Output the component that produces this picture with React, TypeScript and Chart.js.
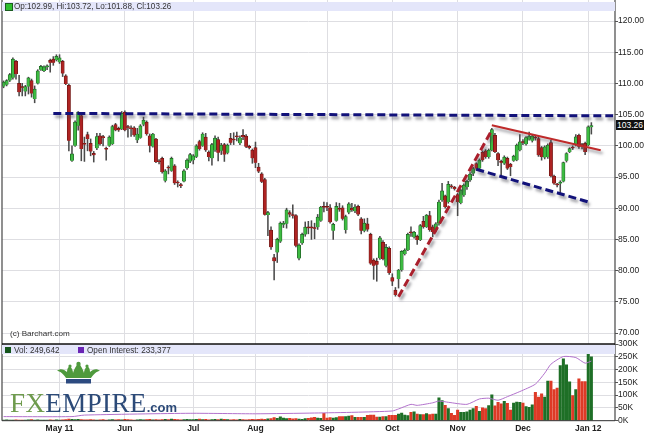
import React, { useEffect, useRef } from "react";
import { Chart, registerables } from "chart.js";

Chart.register(...registerables);

const opens = [
  109.5,109.8,110.45,110.9,113.55,110,109.5,108.7,109.5,110.45,
  107.5,110,112.2,112,112.6,113.7,113.9,113.75,113.4,113.55,
  111.2,109.7,97.6,100,103.2,104.85,100.4,101.8,100.4,98.8,
  99.6,101.6,101.5,99.6,100,100.3,103.4,102.8,102.7,105.4,
  103.1,102.9,102.9,100.9,101.3,103.4,103.8,101.6,99.9,101.1,
  97.6,98,94.4,96.6,96,96.8,94.2,93.8,94.3,96.4,
  97.5,97.7,98.25,100.7,100,101.4,99,98,99.3,101,
  99.2,100.2,98.9,101.2,101.1,101.6,100.4,101.7,101.56,99.9,
  99.3,99.7,96.6,95.5,94.6,88.9,86.5,82.1,82.9,84.65,
  87.4,87.5,89.3,89,88.84,81.96,84.38,85.8,87,87,
  86.9,86.96,88,90.3,90.3,90.07,86.4,88,90,90.07,
  86.5,89.3,90,89.5,90.3,88.3,86.4,87.5,85.8,81.7,
  81.5,82,84.54,80.8,83.57,78.9,76.87,78.64,80.1,82.66,
  83.3,86.2,85.35,85.5,84.9,87.9,87,88.84,87,86.45,
  87.5,91.27,91.97,91,93.6,93.4,92.2,90.84,92.07,93.4,
  94.5,95.55,97.16,96.36,99,99.2,98.2,99.3,101.7,98.77,
  97.5,97.16,98,97.05,97.6,97.7,99.3,100.7,100.27,101,
  100.8,101.4,101.18,99.73,98.13,98.2,100.5,95.13,93.9,93.95,
  94.3,97.6,99,99.8,100.1,101.7,100.2,100.4,100.1,102.99,
];
const closes = [
  110.2,110.45,111.4,113.9,111.5,108.6,109.3,109.5,110.9,108.4,
  109.1,112,112.75,112.65,112.8,113.3,113.3,114.35,114.1,111.6,
  109.9,100.8,98.7,103.8,105.4,99.5,100.2,101.1,99.1,98.5,
  101.5,100.3,101.3,99.4,101.4,103.1,102.5,102.5,105.2,102.5,
  102.9,102.7,101.7,101.9,103.2,104.1,101.9,100,101.9,97.4,
  97.4,95.8,96,96.4,98,94,94,93.6,96,97.7,
  98.6,98.4,100,99.5,101.9,99.3,98.2,100.2,101.25,98.9,
  100.1,98.6,100.1,100.5,100.9,101.4,101.3,101.4,99.84,99.7,
  98,97.3,95.9,94.26,89,89.3,83.74,81.5,85,87.6,
  87.6,89.75,89,88.8,84,84.1,85.8,86.96,86.8,86.8,
  86.7,88.57,90.2,90.1,90.1,87.76,87.4,90.3,89.8,88.3,
  88.67,90.7,89.7,90.2,89,86.4,87.6,86.6,81.16,80.8,
  80.95,85.24,81.86,83.74,79.6,78.26,76.1,80.1,83.1,83.3,
  85.8,86,86.15,84.9,87.2,87,88.9,86.5,86.2,87.5,
  91,92.77,90.2,93.84,93.4,93.1,91,92.9,93.7,94.3,
  95.45,96.36,96.36,97.7,97.7,98.2,99.3,102.6,99,97.7,
  97.3,98.2,96.36,96.6,98.34,100.1,100.64,100.5,101.34,101.55,
  101.55,101.2,98.5,98.2,99.84,100.1,95.13,93.95,93.7,94.2,
  97.3,98.77,99.57,99.6,101.45,99.84,100,99,103.05,103.26,
];
const highs = [
  110.4,110.6,111.6,114.1,113.7,111.3,110,109.7,111,110.7,
  109.6,112.2,112.9,112.8,113,113.9,114.3,114.6,114.6,113.7,
  111.4,109.9,100,104,105.5,105,101.4,102.2,101.1,99.1,
  102,102,101.7,99.8,101.6,103.3,103.6,103,105.5,105.6,
  103.3,103.2,103.1,102.8,103.4,104.6,104,101.9,102,101.2,
  97.8,98.2,96.2,96.8,98.2,97,94.4,94,96.2,97.9,
  98.8,98.6,100.2,100.9,102.1,102,99.2,100.4,101.6,101.4,
  100.4,100.4,100.3,102,102.1,102.2,101.6,102.6,101.8,100.1,
  99.5,100.6,97.2,95.7,94.8,89.5,87,82.6,85.2,87.8,
  87.9,90,89.6,90.55,89,84.3,86,87.8,87.9,88,
  87.6,89,90.3,91,90.9,90.6,87.6,90.9,90.8,90.4,
  88.9,90.9,90.8,90.6,90.5,88.5,88.3,88.4,86,81.9,
  82,85.5,84.8,84.2,83.8,79.5,77.3,80.2,83.2,83.5,
  86,87,86.3,85.7,87.4,88.7,89,89.5,87.3,87.7,
  91.3,94,92.1,94.3,93.8,93.5,92.4,93,93.9,94.5,
  95.7,96.6,97.3,97.9,99.2,99.4,99.5,102.8,102,98.9,
  97.7,98.4,98.2,97.2,98.5,100.3,101.8,101,101.5,102.2,
  101.8,101.7,101.5,99.9,100,100.3,100.9,95.3,94,94.4,
  97.4,98.9,99.7,100,101.8,101.9,100.4,100.6,103.2,103.72,
];
const lows = [
  109.3,109.6,110.3,110.7,110.7,108,108,108,108.3,107.8,
  106.9,109.9,112.1,111.9,112.2,111.8,112.9,113.6,113.2,111.1,
  109.8,99.2,97.5,99.9,102.5,97.6,97.5,99.2,98.4,97.4,
  99.4,100.1,100,97.7,99.9,100.2,102.4,102.3,102.6,102.4,
  101.4,101.5,101.5,100.5,101.2,103.2,101.7,99,99.8,97.3,
  97.1,95.6,94.2,95.5,95.9,93.8,93.4,93.3,94.2,96.2,
  97.3,97.1,98.1,99.3,99.9,99.1,97.6,96.9,99.1,97.6,
  98.6,97.5,98.7,100.2,100.2,100.8,100.2,101,99.7,99.5,
  97.2,96.5,95.7,94.1,88.9,85.6,83.4,78.5,81.3,84.5,
  86.9,86.8,88.6,88.4,83.8,81.7,84.2,85.5,85.9,85,
  85.1,86.6,87.9,89.4,89.6,87.6,85,87.9,89.5,88.1,
  86,89.1,89.5,89.3,88.8,85.9,86.2,86.3,81,78.6,
  78.3,81.8,81.7,80.6,79.4,77.6,75.9,77.2,79.9,82.5,
  83.2,85.5,85.2,84.2,84.8,86.8,86.9,86.3,85.4,86.2,
  87.3,91.1,90,90.8,93.2,92.9,88.8,90.7,91.9,93,
  94.3,95.2,96.1,96.2,97.5,98,98,99.2,98.9,96.8,
  95,97,96.2,95.2,97.5,97.6,99.2,100.2,100.1,100.9,
  100.6,100.9,98.3,97.7,97.9,98,95,93.8,93.4,92.5,
  94.2,97.4,98.9,99.4,100,99.6,99.5,98.6,100,101.88,
];
// Volume and open interest, in thousands
const volumes = [
  2,3,2,1,3,2,1,2,3,4,2,3,2,1,2,3,2,3,2,3,
  4,6,5,4,5,4,3,3,4,3,2,3,4,2,3,4,3,4,3,5,
  4,3,2,3,4,3,4,5,3,4,3,4,5,4,6,5,4,3,4,5,
  4,4,5,6,4,5,3,4,5,4,6,5,4,3,4,3,5,4,3,4,
  5,4,5,6,5,7,8,12,9,15,10,8,9,7,8,6,5,8,9,11,
  13,10,9,29,10,12,10,12,16,16,16,18,20,13,13,13,13,21,22,22,
  14,14,16,16,21,21,21,26,30,22,20,33,35,26,24,24,28,24,26,26,
  89,79,60,47,29,21,42,33,33,35,42,47,56,37,50,47,59,101,58,72,
  66,76,68,42,69,73,72,69,55,52,62,111,92,105,92,155,155,122,128,216,
  242,219,152,98,122,164,153,153,275,249.642,
];
const interestDays = [0,22,26,60,81,100,113,125,127,131,133,138,140,143,149,153,156,159,162,166,171,174,176,180,184,187,189];
const interestValues = [16,16,22,29,27,30,33,38,46,64,60,70,77,72,64,85,88,80,94,114,143,186,221,251,247,225,233.377];

const resistance = [{ x: 16, y: 105.2 }, { x: 196, y: 104.8 }];
const riseTrend = [{ x: 127, y: 75.8 }, { x: 157, y: 102.5 }];
const upperChannel = [{ x: 157, y: 103.3 }, { x: 192, y: 99.3 }];
const lowerChannel = [{ x: 152, y: 96.25 }, { x: 188, y: 91 }];

const monthDays = [18, 39, 61, 81, 104, 125, 146, 167, 188];
const monthLabels = ["May 11", "Jun", "Jul", "Aug", "Sep", "Oct", "Nov", "Dec", "Jan 12"];
const priceTicks = [70, 75, 80, 85, 90, 95, 100, 105, 110, 115, 120];
const volumeTicks = [0, 50, 100, 150, 200, 250, 300];

const FONT = "'Liberation Sans', Arial, sans-serif";
const GRID = "#dedee2";
const X_MIN = -0.5;
const X_MAX = 196.6;

const isUp = (i: number) => closes[i] >= opens[i];
const days = opens.map((_, i) => i);

const shadowPlugin = {
  id: "lineShadow",
  beforeDatasetDraw(chart: any, args: any) {
    const ds = chart.data.datasets[args.index];
    if (ds.dropShadow) {
      chart.ctx.save();
      chart.ctx.shadowColor = "rgba(70,70,80,0.55)";
      chart.ctx.shadowBlur = 3;
      chart.ctx.shadowOffsetX = 2;
      chart.ctx.shadowOffsetY = 3;
    }
  },
  afterDatasetDraw(chart: any, args: any) {
    if (chart.data.datasets[args.index].dropShadow) chart.ctx.restore();
  },
};

const framePlugin = {
  id: "frame",
  afterDatasetsDraw(chart: any) {
    const { ctx, chartArea: a } = chart;
    ctx.save();
    ctx.strokeStyle = "#555";
    ctx.lineWidth = 1.3;
    ctx.beginPath();
    ctx.moveTo(a.left, a.top);
    ctx.lineTo(a.left, a.bottom);
    ctx.moveTo(a.right, a.top);
    ctx.lineTo(a.right, a.bottom);
    ctx.stroke();
    ctx.restore();
  },
};

const rulePlugin = {
  id: "rules",
  afterDatasetsDraw(chart: any) {
    const { ctx, chartArea: a } = chart;
    ctx.save();
    ctx.strokeStyle = "#111";
    ctx.lineWidth = 1.4;
    ctx.beginPath();
    ctx.moveTo(a.left, a.top);
    ctx.lineTo(a.right, a.top);
    ctx.stroke();
    ctx.strokeStyle = "#333";
    ctx.lineWidth = 1;
    ctx.beginPath();
    ctx.moveTo(a.left, a.bottom);
    ctx.lineTo(a.right, a.bottom);
    ctx.stroke();
    ctx.restore();
  },
};

const xScale = (showLabels: boolean) => ({
  type: "linear",
  min: X_MIN,
  max: X_MAX,
  offset: false,
  afterBuildTicks: (s: any) => {
    s.ticks = monthDays.map((v) => ({ value: v }));
  },
  afterFit: (s: any) => {
    s.height = showLabels ? 14.3 : 0;
    s.paddingLeft = 0;
    s.paddingRight = 0;
  },
  grid: { color: GRID, drawTicks: false, offset: false },
  border: { display: false },
  ticks: {
    display: showLabels,
    autoSkip: false,
    maxRotation: 0,
    padding: 3,
    color: "#222",
    font: { family: FONT, size: 8.5, weight: "bold" },
    callback: (v: number) => monthLabels[monthDays.indexOf(v)] ?? "",
  },
});

const yScale = (min: number, max: number, values: number[], fmt: (v: number) => string) => ({
  type: "linear",
  position: "right",
  min,
  max,
  afterBuildTicks: (s: any) => {
    s.ticks = values.map((v) => ({ value: v }));
  },
  afterFit: (s: any) => {
    s.width = 30;
    s.paddingTop = 0;
    s.paddingBottom = 0;
  },
  grid: { color: GRID, tickColor: "#555", tickLength: 3 },
  border: { display: false },
  ticks: {
    autoSkip: false,
    padding: 0,
    color: "#222",
    font: { family: FONT, size: 8.5 },
    callback: (v: number) => fmt(v),
  },
});

const trendLine = (data: any[], color: string, width: number, dash: number[], order: number) => ({
  type: "line",
  data,
  borderColor: color,
  borderWidth: width,
  borderDash: dash,
  pointRadius: 0,
  fill: false,
  tension: 0,
  order,
  dropShadow: true,
});

export default function App() {
  const priceRef = useRef<HTMLCanvasElement>(null);
  const volumeRef = useRef<HTMLCanvasElement>(null);

  useEffect(() => {
    const price = new Chart(priceRef.current as any, {
      type: "bar",
      data: {
        datasets: [
          trendLine(resistance, "#12127a", 3, [8, 4], 0),
          trendLine(riseTrend, "#aa1f2c", 3, [8, 4], 0),
          trendLine(upperChannel, "#bf2a2a", 2, [], 0),
          trendLine(lowerChannel, "#12127a", 3, [8, 4], 0),
          {
            data: days.map((i) => ({ x: i, y: [opens[i], closes[i]] })),
            backgroundColor: days.map((i) => (isUp(i) ? "#3dbb42" : "#ae2322")),
            borderColor: days.map((i) => (isUp(i) ? "#1c5c20" : "#6a1412")),
            borderWidth: 0.7,
            barThickness: 3.3,
            grouped: false,
            order: 1,
          },
          {
            data: days.map((i) => ({ x: i, y: [lows[i], highs[i]] })),
            backgroundColor: "#4a4a4a",
            borderWidth: 0,
            barThickness: 0.9,
            grouped: false,
            order: 2,
          },
        ] as any,
      },
      options: {
        animation: false,
        responsive: false,
        events: [],
        layout: { padding: { left: 2 } },
        plugins: { legend: { display: false }, tooltip: { enabled: false } },
        scales: {
          x: xScale(false),
          y: yScale(68.24, 123.37, priceTicks, (v) => v.toFixed(2)),
        } as any,
      },
      plugins: [shadowPlugin, framePlugin],
    } as any);

    const volume = new Chart(volumeRef.current as any, {
      type: "bar",
      data: {
        datasets: [
          {
            type: "line",
            data: interestDays.map((d, i) => ({ x: d, y: interestValues[i] })),
            borderColor: "#b272cc",
            borderWidth: 1,
            pointRadius: 0,
            tension: 0.2,
            order: 0,
          },
          {
            data: days.map((i) => ({ x: i, y: volumes[i] })),
            backgroundColor: days.map((i) => (isUp(i) ? "#1e6f26" : "#de3a26")),
            borderWidth: 0,
            barThickness: 2.4,
            grouped: false,
            order: 1,
          },
        ] as any,
      },
      options: {
        animation: false,
        responsive: false,
        events: [],
        layout: { padding: { top: 9, left: 2 } },
        plugins: { legend: { display: false }, tooltip: { enabled: false } },
        scales: {
          x: xScale(true),
          y: yScale(0, 300, volumeTicks, (v) => `${v}K`),
        } as any,
      },
      plugins: [framePlugin, rulePlugin],
    } as any);

    return () => {
      price.destroy();
      volume.destroy();
    };
  }, []);

  const abs = (s: React.CSSProperties): React.CSSProperties => ({ position: "absolute", ...s });
  const n = closes.length - 1;

  return (
    <div style={{ position: "fixed", inset: 0, background: "#fff", overflow: "hidden", fontFamily: FONT }}>
      <canvas ref={priceRef} width={645} height={344} style={abs({ left: 0, top: 0 })} />
      <canvas ref={volumeRef} width={645} height={100} style={abs({ left: 0, top: 335 })} />

      <div style={abs({ left: 2, top: 2, width: 613, height: 9, background: "#e4e6fa" })} />
      <div style={abs({ left: 5, top: 3, width: 6, height: 6, background: "#2fc02f", border: "1px solid #1c5c20" })} />
      <div style={abs({ left: 14, top: 1, fontSize: 8.15, lineHeight: "12px", color: "#333", whiteSpace: "nowrap" })}>
        {`Op:${opens[n].toFixed(2)}, Hi:${highs[n].toFixed(2)}, Lo:${lows[n].toFixed(2)}, Cl:${closes[n].toFixed(2)}`}
      </div>

      <div style={abs({ left: 10, top: 329, fontSize: 8.1, lineHeight: "10px", color: "#333", whiteSpace: "nowrap" })}>
        (c) Barchart.com
      </div>

      <div style={abs({ left: 616, top: 120, width: 28, height: 10, background: "#111", color: "#fff", fontSize: 8.5, lineHeight: "10px", textAlign: "center" })}>
        {closes[n].toFixed(2)}
      </div>

      <div style={abs({ left: 2, top: 345, width: 613, height: 9, background: "#e4e6fa" })} />
      <div style={abs({ left: 5, top: 347, width: 6, height: 6, background: "#14551c" })} />
      <div style={abs({ left: 14, top: 345, fontSize: 8.2, lineHeight: "11px", color: "#333", whiteSpace: "nowrap" })}>
        Vol: 249,642
      </div>
      <div style={abs({ left: 78, top: 347, width: 6, height: 6, background: "#6a24b4" })} />
      <div style={abs({ left: 87, top: 345, fontSize: 8.2, lineHeight: "11px", color: "#333", whiteSpace: "nowrap" })}>
        Open Interest: 233,377
      </div>

      <svg width={46} height={24} viewBox="0 0 46 24" style={abs({ left: 56, top: 361 })}>
        <path d="M10 17 C6 11 3 10 1 10 C4 7 8 8 11 11 C11 8 12 6 14 5 C16 7 17 10 17 12 C18 8 20 5 22.5 2 C25 5 27 8 28 12 C28 10 29 7 31 5 C33 6 34 8 34 11 C37 8 41 7 44 10 C42 10 39 11 35 17 Z" fill="#4f9a3d" />
        <circle cx="22.5" cy="3" r="2.2" fill="#4f9a3d" />
        <circle cx="14" cy="5" r="1.6" fill="#4f9a3d" />
        <circle cx="31" cy="5" r="1.6" fill="#4f9a3d" />
        <rect x="10" y="18" width="25" height="4.5" fill="#2c4a80" />
      </svg>

      <div style={abs({ left: 10, top: 389, lineHeight: "28px", fontFamily: "'Liberation Serif', serif", fontSize: 27, letterSpacing: 0.4, whiteSpace: "nowrap", color: "#2c4a78" })}>
        <span style={{ color: "#6f9b4e" }}>FX</span>EMPIRE
        <span style={{ fontFamily: FONT, fontSize: 13, fontWeight: "bold", letterSpacing: 0 }}>.com</span>
      </div>
    </div>
  );
}
